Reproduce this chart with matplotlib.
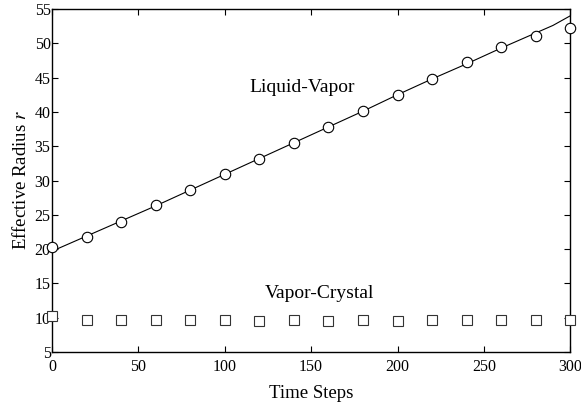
import matplotlib
matplotlib.use('Agg')
import matplotlib.pyplot as plt
import numpy as np

# time steps of the sampled radii
steps = [0, 20, 40, 60, 80, 100, 120, 140, 160, 180, 200, 220, 240, 260, 280, 300]
liquid_vapor = [20.3, 21.8, 24.0, 26.4, 28.6, 31.0, 33.2, 35.5, 37.8, 40.2,
                42.4, 44.8, 47.2, 49.4, 51.0, 52.2]
vapor_crystal = [10.3, 9.6, 9.6, 9.6, 9.6, 9.6, 9.5, 9.6, 9.5, 9.6,
                 9.5, 9.6, 9.6, 9.6, 9.6, 9.6]

# fitted curve through the liquid-vapor points
fit_steps = [0, 20, 40, 60, 80, 100, 120, 140, 160, 180, 200, 220, 240, 260, 280, 290, 300]
fit_radius = [19.7, 21.9, 24.1, 26.3, 28.6, 30.9, 33.2, 35.5, 37.8, 40.1,
              42.5, 44.8, 47.0, 49.3, 51.5, 52.6, 54.0]

plt.rcParams['font.family'] = ['Liberation Serif', 'DejaVu Serif']
plt.rcParams['mathtext.fontset'] = 'stix'

fig = plt.figure(figsize=(5.81, 4.07), dpi=100)
ax = fig.add_axes([0.0895, 0.135, 0.892, 0.843])

ax.plot(fit_steps, fit_radius, color='black', lw=0.8)
ax.plot(steps, liquid_vapor, linestyle='none', marker='o', ms=7.5,
        mfc='white', mec='black', mew=0.8, clip_on=False, zorder=3)
ax.plot(steps, vapor_crystal, linestyle='none', marker='s', ms=7,
        mfc='white', mec='#333333', mew=0.8, clip_on=False, zorder=3)

ax.text(145, 43.6, 'Liquid-Vapor', fontsize=14, ha='center', va='center')
ax.text(155, 13.6, 'Vapor-Crystal', fontsize=14, ha='center', va='center')

ax.set_xlim(0, 300)
ax.set_ylim(5, 55)
ax.set_xticks(np.arange(0, 301, 50))
ax.set_yticks(np.arange(5, 56, 5))
ax.tick_params(direction='in', top=True, right=True, length=4, width=0.8,
               labelsize=11.5, pad=5)
ax.tick_params(axis='y', pad=1)
for s in ax.spines.values():
    s.set_linewidth(1.0)

ax.set_xlabel('Time Steps', fontsize=13.5, labelpad=7)
ax.set_ylabel('Effective Radius $r$', fontsize=13.5, labelpad=3)

fig.savefig('out.png', dpi=100)
